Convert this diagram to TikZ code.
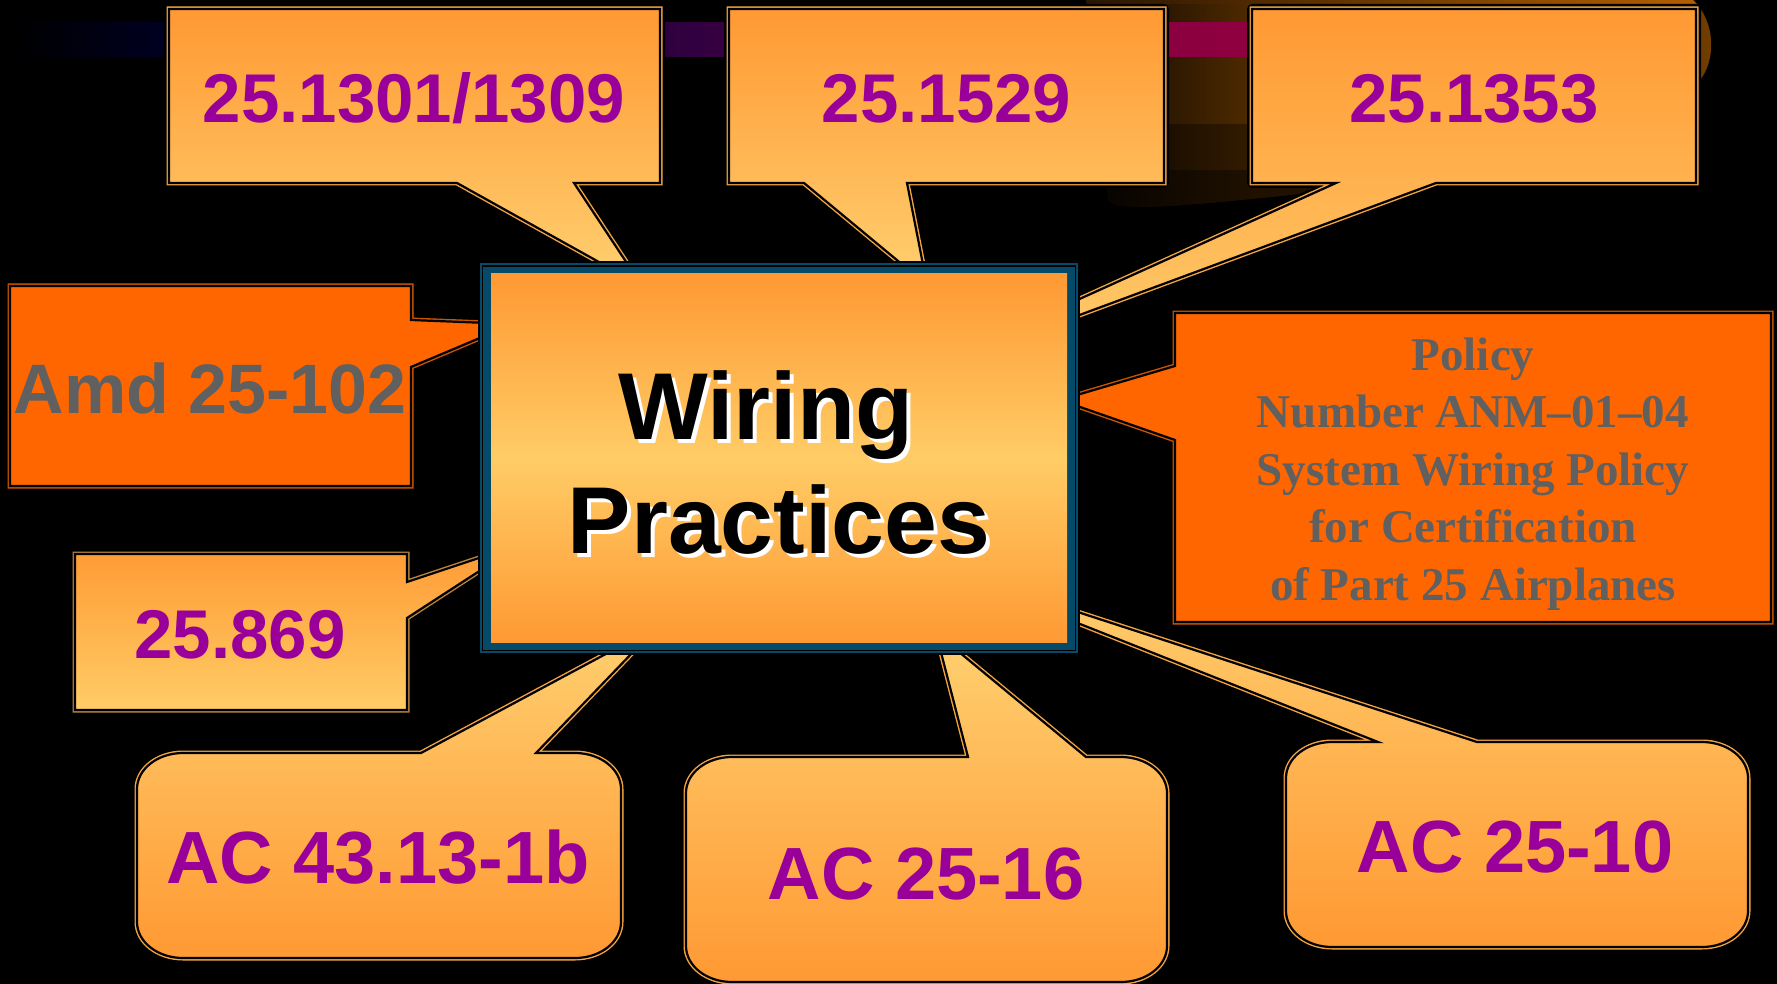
\documentclass[tikz,border=0pt]{standalone}
\usepackage{fontspec}
\setmainfont{Liberation Sans}
\newfontfamily\timesfam{Liberation Serif}
\definecolor{calloutorange}{HTML}{FF9933}
\definecolor{calloutlight}{HTML}{FFD070}
\definecolor{boxlight}{HTML}{FFCC66}
\definecolor{hotorange}{HTML}{FF6600}
\definecolor{purp}{HTML}{990099}
\definecolor{textgrey}{HTML}{606060}
\definecolor{framenavy}{HTML}{054A68}
\definecolor{lineorange}{HTML}{F5A540}
\definecolor{linegold}{HTML}{B8843C}
\definecolor{linedark}{HTML}{CC5500}
\definecolor{bandA}{HTML}{000000}
\definecolor{bandB}{HTML}{000022}
\definecolor{bandC}{HTML}{320040}
\definecolor{bandD}{HTML}{840040}
\definecolor{bandE}{HTML}{900040}
\definecolor{blobA}{HTML}{0C0600}
\definecolor{blobB}{HTML}{4E2A00}
\definecolor{blobC}{HTML}{703C00}
\definecolor{rimA}{HTML}{2A1500}
\definecolor{rimB}{HTML}{B86000}
\pgfdeclarehorizontalshading{bandshade}{100bp}{color(0bp)=(bandA); color(25bp)=(bandA); color(31.24bp)=(bandB); color(52.6bp)=(bandC); color(66.6bp)=(bandD); color(75bp)=(bandE); color(100bp)=(bandE)}
\pgfdeclarehorizontalshading{blobshade}{100bp}{color(0bp)=(blobA); color(25bp)=(blobA); color(38.1bp)=(blobB); color(75bp)=(blobC); color(100bp)=(blobC)}
\newcommand\drawcallout[3]{%
  \draw[black, line width=10, line join=round] #1;
  \draw[#3, line width=5, line join=miter] #1;
  \path[#2] #1;
  \draw[black, line width=2.2, line join=miter] #1;
}
\newcommand\shadowword[1]{\makebox[0pt][l]{\kern4pt\raisebox{-4pt}{\textcolor{white}{#1}}}#1}
\tikzset{
  topfill/.style={top color=calloutorange, bottom color=calloutlight},
  bottomfill/.style={top color=calloutlight, bottom color=calloutorange},
  hotfill/.style={fill=hotorange},
  numtext/.style={inner sep=0pt, anchor=base, text=purp, font=\bfseries\fontsize{69}{83}\selectfont},
  actext/.style={inner sep=0pt, anchor=base, text=purp, font=\bfseries\fontsize{74}{89}\selectfont},
  greytext/.style={inner sep=0pt, anchor=base, text=textgrey, font=\bfseries\fontsize{70}{84}\selectfont},
  titletext/.style={inner sep=0pt, anchor=north, align=center, font=\bfseries\fontsize{95}{114}\selectfont},
  policytext/.style={inner sep=0pt, anchor=north, align=center, text=textgrey, font=\timesfam\bfseries\fontsize{47}{57.5}\selectfont}
}
\begin{document}
\begin{tikzpicture}[x=1pt,y=-1pt]
\useasboundingbox (0,0) rectangle (1777,984);
\fill[black] (0,0) rectangle (1777,984);

% background blob (top right)
\begin{scope}
  \clip (1086,0) -- (1108,200) .. controls (1112,212) and (1180,206) .. (1260,198) .. controls (1450,180) and (1650,130) .. (1700,80) .. controls (1716,60) and (1716,22) .. (1693,0) -- cycle;
  \fill[shading=blobshade] (1086,0) rectangle (1713,230);
  \fill[black, opacity=.35] (1080,124) rectangle (1720,170);
  \fill[black, opacity=.6] (1080,170) rectangle (1720,230);
  \fill[left color=rimA, right color=rimB] (1086,0) rectangle (1713,4);
\end{scope}

% background band
\fill[shading=bandshade] (10,23) rectangle (1260,57);

% top callouts
\drawcallout{(169,9) -- (660,9) -- (660,183) -- (574,183) -- (642,286) -- (457,183) -- (169,183) -- cycle}{topfill}{lineorange}
\drawcallout{(729,9) -- (1164,9) -- (1164,183) -- (907,183) -- (927,285) -- (804,183) -- (729,183) -- cycle}{topfill}{lineorange}
\drawcallout{(1252,9) -- (1696,9) -- (1696,183) -- (1436,183) -- (885,387) -- (1336,183) -- (1252,183) -- cycle}{topfill}{lineorange}

% side callouts
\drawcallout{(10,286) -- (411,286) -- (411,320) -- (513,324) -- (411,367) -- (411,486) -- (10,486) -- cycle}{hotfill}{linedark}
\drawcallout{(75,554) -- (407,554) -- (407,582) -- (521,544) -- (407,618) -- (407,710) -- (75,710) -- cycle}{top color=calloutorange, bottom color=boxlight}{linegold}
\drawcallout{(1175,313) -- (1771,313) -- (1771,622) -- (1175,622) -- (1175,440) -- (1060,400) -- (1175,366) -- cycle}{hotfill}{linedark}

% bottom rounded callouts
\drawcallout{(183,753) -- (421,753) -- (658,626) -- (536,753) -- (575,753) .. controls (600.4,753) and (621,769.1) .. (621,789) -- (621,922) .. controls (621,941.9) and (600.4,958) .. (575,958) -- (183,958) .. controls (157.6,958) and (137,941.9) .. (137,922) -- (137,789) .. controls (137,769.1) and (157.6,753) .. (183,753) -- cycle}{bottomfill}{lineorange}
\drawcallout{(732,757) -- (968,757) -- (936,633) -- (1086,757) -- (1121,757) .. controls (1146.4,757) and (1167,773.1) .. (1167,793) -- (1167,946) .. controls (1167,965.9) and (1146.4,982) .. (1121,982) -- (732,982) .. controls (706.6,982) and (686,965.9) .. (686,946) -- (686,793) .. controls (686,773.1) and (706.6,757) .. (732,757) -- cycle}{bottomfill}{lineorange}
\drawcallout{(1332,742) -- (1378,742) -- (921,561) -- (1477,742) -- (1702,742) .. controls (1727.4,742) and (1748,758.1) .. (1748,778) -- (1748,911) .. controls (1748,930.9) and (1727.4,947) .. (1702,947) -- (1332,947) .. controls (1306.6,947) and (1286,930.9) .. (1286,911) -- (1286,778) .. controls (1286,758.1) and (1306.6,742) .. (1332,742) -- cycle}{bottomfill}{lineorange}

% central box
\fill[black] (478,261) rectangle (1080,655);
\draw[framenavy, line width=1.6] (480.8,263.8) rectangle (1077.2,652.2);
\fill[framenavy] (483,267) rectangle (1075,650);
\path[top color=calloutorange, bottom color=calloutorange, middle color=boxlight] (491,274) rectangle (1067,642);

% texts
\node[numtext] (t1) at (414,123) {25.1301/1309};
\node[numtext] (t2) at (946.5,123) {25.1529};
\node[numtext] (t3) at (1474,123) {25.1353};
\node[greytext] (t4) at (210,413) {Amd 25-102};
\node[numtext] (t5) at (240,658) {25.869};
\node[actext] (t6) at (378,883) {AC 43.13-1b};
\node[actext] (t7) at (926,899) {AC 25-16};
\node[actext] (t8) at (1515,872) {AC 25-10};
\node[policytext] (policy) at (1473,337.2) {Policy\\Number ANM–01–04\\System Wiring Policy\hspace*{.25em}\\for Certification\\of Part 25 Airplanes};
\node[titletext, text=black] (title) at (779,370) {\shadowword{Wiring}\hspace*{.278em}\\\shadowword{Practices}};
\end{tikzpicture}
\end{document}
